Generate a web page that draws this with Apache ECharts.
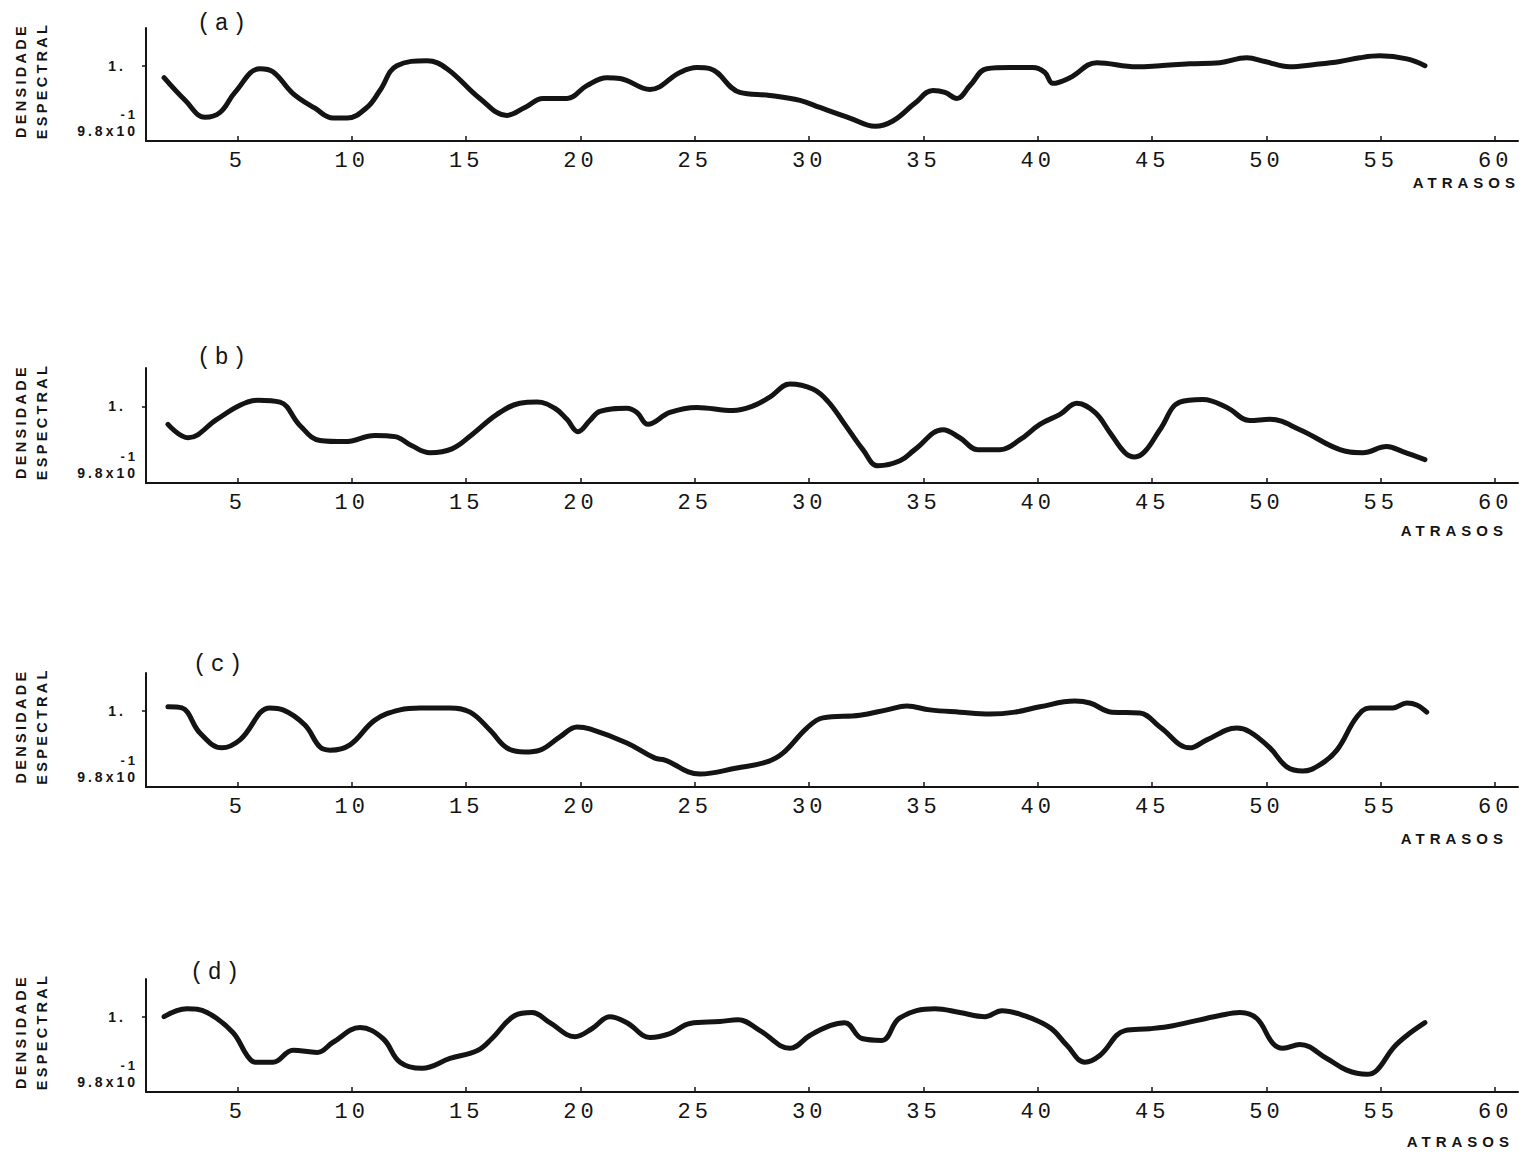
<!DOCTYPE html>
<html>
<head>
<meta charset="utf-8">
<script src="https://cdn.jsdelivr.net/npm/echarts@6/dist/echarts.min.js"></script>
<style>
html, body { margin: 0; padding: 0; background: #fff; }
#chart { width: 1526px; height: 1154px; }
#chart text[style*="Liberation Mono"] { letter-spacing: 4px; }
#chart text[style*="Liberation Sans"] { letter-spacing: 3px; }
#chart text[style*="14.5px"][style*="Liberation Sans"] { letter-spacing: 3.3px; }
#chart text[style*="15px"][style*="Liberation Sans"] { letter-spacing: 5px; }
</style>
</head>
<body>
<div id="chart"></div>
<script>
// ---- data ----
const xTickValues = [5, 10, 15, 20, 25, 30, 35, 40, 45, 50, 55, 60];
const yLabelValues = [0.98, 1];
const panelLabels = ['(a)', '(b)', '(c)', '(d)'];
const yAxisName = 'DENSIDADE\nESPECTRAL';
const xAxisName = 'ATRASOS';

const lagsA = [1.79, 2.71, 3.58, 4.24, 4.89, 5.98, 6.55, 7.43, 8.39, 9.18, 9.79, 10.66, 11.23, 11.97, 13.29, 14.16, 15.60, 16.78, 17.57, 18.36, 19.41, 20.28, 21.16, 21.73, 23.04, 24.35, 25.09, 25.66, 26.97, 28.28, 29.60, 30.47, 31.78, 32.88, 33.66, 34.62, 35.41, 35.94, 36.46, 37.03, 37.77, 38.78, 39.78, 40.31, 40.66, 41.40, 42.58, 44.33, 45.34, 46.65, 47.96, 49.14, 49.93, 51.02, 52.11, 53.21, 54.08, 54.96, 56.14, 56.93];
const densA = [0.9968, 0.9908, 0.9863, 0.9876, 0.9929, 0.9992, 0.9984, 0.9926, 0.9887, 0.9861, 0.9861, 0.9889, 0.9934, 1.0000, 1.0013, 0.9992, 0.9913, 0.9868, 0.9889, 0.9913, 0.9913, 0.9947, 0.9968, 0.9966, 0.9937, 0.9982, 0.9995, 0.9992, 0.9929, 0.9921, 0.9908, 0.9889, 0.9861, 0.9839, 0.9853, 0.9900, 0.9934, 0.9929, 0.9913, 0.9947, 0.9992, 0.9995, 0.9995, 0.9982, 0.9953, 0.9968, 1.0008, 0.9997, 1.0000, 1.0005, 1.0008, 1.0021, 1.0011, 0.9997, 1.0003, 1.0011, 1.0021, 1.0026, 1.0018, 1.0000];

const lagsB = [1.96, 2.84, 4.10, 5.11, 5.90, 6.86, 7.73, 8.61, 9.70, 11.01, 11.89, 12.63, 13.42, 14.38, 15.25, 16.35, 17.35, 18.10, 18.88, 19.41, 19.89, 20.41, 20.85, 22.03, 22.47, 22.95, 23.91, 25.09, 26.67, 27.50, 28.28, 29.16, 30.16, 30.82, 31.56, 32.35, 33.01, 33.97, 34.62, 35.85, 36.59, 37.38, 38.34, 39.22, 40.09, 40.97, 41.71, 42.50, 43.15, 43.81, 44.24, 44.68, 45.34, 46.21, 47.22, 48.27, 49.27, 50.15, 51.46, 53.21, 54.21, 55.26, 55.96, 56.93];
const densB = [0.9953, 0.9918, 0.9966, 1.0003, 1.0016, 1.0011, 0.9950, 0.9911, 0.9908, 0.9924, 0.9921, 0.9897, 0.9879, 0.9889, 0.9926, 0.9979, 1.0008, 1.0011, 0.9995, 0.9966, 0.9934, 0.9963, 0.9987, 0.9995, 0.9984, 0.9953, 0.9984, 0.9997, 0.9989, 1.0000, 1.0024, 1.0058, 1.0045, 1.0013, 0.9953, 0.9887, 0.9845, 0.9858, 0.9887, 0.9939, 0.9918, 0.9887, 0.9887, 0.9913, 0.9953, 0.9979, 1.0008, 0.9984, 0.9932, 0.9879, 0.9868, 0.9882, 0.9939, 1.0011, 1.0018, 0.9997, 0.9963, 0.9966, 0.9939, 0.9887, 0.9879, 0.9895, 0.9882, 0.9861];

const lagsC = [1.96, 2.57, 3.36, 4.32, 5.11, 6.42, 6.99, 7.95, 8.61, 9.05, 9.92, 11.01, 12.11, 12.98, 14.29, 15.17, 16.04, 16.78, 17.57, 18.23, 19.10, 19.85, 20.41, 22.03, 23.26, 23.69, 25.22, 26.84, 28.15, 28.85, 29.90, 30.60, 32.22, 33.40, 34.27, 35.28, 36.59, 37.90, 39.00, 40.09, 41.62, 42.28, 43.24, 44.46, 45.34, 46.65, 47.39, 48.70, 49.27, 50.15, 50.89, 51.59, 52.33, 53.08, 53.95, 54.52, 55.53, 56.14, 56.57, 57.01];
const densC = [1.0011, 1.0008, 0.9942, 0.9903, 0.9924, 1.0008, 1.0003, 0.9963, 0.9905, 0.9897, 0.9911, 0.9976, 1.0003, 1.0008, 1.0008, 0.9997, 0.9950, 0.9903, 0.9892, 0.9897, 0.9932, 0.9958, 0.9953, 0.9916, 0.9876, 0.9871, 0.9834, 0.9850, 0.9866, 0.9889, 0.9955, 0.9982, 0.9989, 1.0003, 1.0013, 1.0003, 0.9997, 0.9992, 0.9997, 1.0011, 1.0026, 1.0021, 0.9997, 0.9995, 0.9958, 0.9903, 0.9924, 0.9955, 0.9945, 0.9903, 0.9853, 0.9842, 0.9858, 0.9897, 0.9984, 1.0008, 1.0008, 1.0021, 1.0016, 0.9997];

const lagsD = [1.79, 2.79, 3.67, 4.80, 5.42, 5.77, 6.55, 7.43, 8.48, 9.18, 10.36, 11.36, 12.11, 13.07, 14.29, 15.52, 16.13, 17.13, 17.88, 18.66, 19.76, 20.50, 21.29, 22.03, 23.04, 23.91, 24.79, 26.10, 26.89, 27.85, 29.16, 30.03, 30.91, 31.56, 32.31, 33.18, 33.97, 35.50, 36.59, 37.69, 38.43, 39.30, 40.53, 41.27, 42.06, 42.71, 43.81, 44.90, 45.91, 47.96, 48.84, 49.58, 50.28, 50.72, 51.46, 52.64, 53.51, 54.39, 54.83, 55.53, 56.14, 56.93];
const densD = [1.0000, 1.0021, 1.0011, 0.9958, 0.9897, 0.9879, 0.9879, 0.9911, 0.9905, 0.9932, 0.9971, 0.9942, 0.9879, 0.9863, 0.9889, 0.9911, 0.9942, 1.0003, 1.0011, 0.9984, 0.9947, 0.9968, 1.0000, 0.9984, 0.9945, 0.9955, 0.9982, 0.9987, 0.9992, 0.9963, 0.9916, 0.9950, 0.9976, 0.9984, 0.9942, 0.9937, 0.9997, 1.0021, 1.0011, 1.0000, 1.0016, 1.0005, 0.9971, 0.9924, 0.9879, 0.9897, 0.9963, 0.9968, 0.9976, 1.0003, 1.0011, 0.9995, 0.9929, 0.9916, 0.9926, 0.9889, 0.9858, 0.9847, 0.9858, 0.9916, 0.9950, 0.9984];

// ---- layout (styles only) ----
const gridTops = [28, 368, 673, 979];
const gridHeights = [113, 115, 114, 113];
const titlePos = [[197, 12], [197, 346], [193, 653], [190, 961]];
const xNamePad = [34, 40, 44, 42];
const xNameGap = [2, -10, -10, -4];

const lagsAll = [lagsA, lagsB, lagsC, lagsD];
const densAll = [densA, densB, densC, densD];

const ink = '#141414';
const chart = echarts.init(document.getElementById('chart'), null, { renderer: 'svg' });

const grids = [], xAxes = [], yAxes = [], series = [], titles = [];
for (let i = 0; i < 4; i++) {
  grids.push({ left: 146, right: 8, top: gridTops[i], height: gridHeights[i], outerBoundsMode: 'none', containLabel: false });
  titles.push({
    text: panelLabels[i], left: titlePos[i][0], top: titlePos[i][1], padding: 0,
    textStyle: { fontFamily: 'Liberation Mono', fontSize: 23, fontWeight: 'normal', color: ink }
  });
  xAxes.push({
    gridIndex: i, type: 'value', min: 1, max: 61,
    name: xAxisName, nameLocation: 'end', nameGap: xNameGap[i], nameMoveOverlap: false,
    nameTextStyle: { fontFamily: 'Liberation Sans', fontWeight: 'bold', fontSize: 15, color: ink,
      align: 'right', verticalAlign: 'top', padding: [xNamePad[i], 0, 0, 0] },
    axisLine: { show: true, onZero: false, lineStyle: { color: ink, width: 2 } },
    axisTick: { show: true, inside: true, length: 5, customValues: xTickValues, lineStyle: { color: ink, width: 1.5 } },
    axisLabel: { show: true, customValues: xTickValues, margin: 9,
      fontFamily: 'Liberation Mono', fontSize: 22, color: ink, formatter: v => String(Math.round(v)) },
    splitLine: { show: false }
  });
  yAxes.push({
    gridIndex: i, type: 'value', min: 0.98, max: 1.01,
    name: yAxisName, nameLocation: 'middle', nameRotate: 90, nameGap: 94, nameMoveOverlap: false,
    nameTextStyle: { fontFamily: 'Liberation Sans', fontWeight: 'bold', fontSize: 14.5, color: ink,
      lineHeight: 21, align: 'center', padding: [0, 0, 0, 8] },
    axisLine: { show: true, onZero: false, lineStyle: { color: ink, width: 2 } },
    axisTick: { show: true, inside: false, length: 4, customValues: [1], lineStyle: { color: ink, width: 1.5 } },
    axisLabel: {
      show: true, customValues: yLabelValues, margin: 8,
      formatter: v => Math.abs(v - 1) < 1e-6 ? '{one|1.}' : '{sup|-1}\n{base|9.8x10}\n{gap| }',
      rich: {
        one: { fontFamily: 'Liberation Sans', fontWeight: 'bold', fontSize: 14, color: ink, padding: [0, 12, 0, 0] },
        sup: { fontFamily: 'Liberation Sans', fontWeight: 'bold', fontSize: 13, color: ink, align: 'right', lineHeight: 18 },
        base: { fontFamily: 'Liberation Sans', fontWeight: 'bold', fontSize: 14, color: ink, lineHeight: 16 },
        gap: { fontSize: 10, lineHeight: 38 }
      }
    },
    splitLine: { show: false }
  });
  series.push({
    type: 'line', xAxisIndex: i, yAxisIndex: i,
    data: lagsAll[i].map((x, k) => [x, densAll[i][k]]),
    showSymbol: false, symbol: 'none', smooth: 0.4,
    lineStyle: { color: ink, width: 5, cap: 'round', join: 'round' },
    animation: false
  });
}

chart.setOption({
  backgroundColor: '#fff',
  animation: false,
  title: titles,
  grid: grids,
  xAxis: xAxes,
  yAxis: yAxes,
  series: series
});
</script>
</body>
</html>
